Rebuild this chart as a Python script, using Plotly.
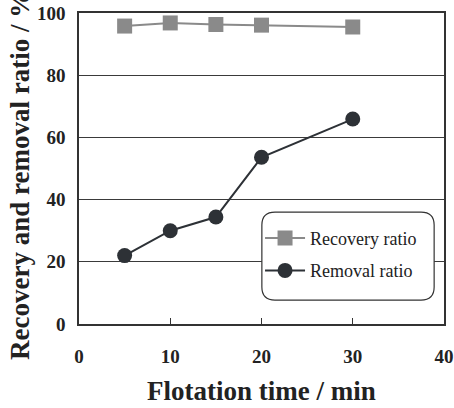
import plotly.graph_objects as go

time_min = [5, 10, 15, 20, 30]
recovery = [95.8, 96.8, 96.3, 96.1, 95.5]
removal = [22.0, 30.0, 34.4, 53.6, 65.9]
x_ticks = [0, 10, 20, 30, 40]
y_ticks = [0, 20, 40, 60, 80, 100]

SERIF = "Liberation Serif, Times New Roman, serif"

fig = go.Figure()
fig.add_trace(go.Scatter(
    x=time_min, y=recovery, mode="lines+markers", name="Recovery ratio",
    legendgroup="rec",
    line=dict(color="#8a8a8a", width=2),
    marker=dict(symbol="square", size=15, color="#8a8a8a"),
))
fig.add_trace(go.Scatter(
    x=time_min, y=removal, mode="lines+markers", name="Removal ratio",
    legendgroup="rem",
    line=dict(color="#2d3136", width=2),
    marker=dict(symbol="circle", size=15, color="#2d3136"),
))

# rounded legend box
x0, x1, y0, y1 = 0.501, 0.973, 0.077, 0.360
rx, ry = 0.036, 0.042
path = (f"M {x0+rx},{y0} L {x1-rx},{y0} Q {x1},{y0} {x1},{y0+ry} "
        f"L {x1},{y1-ry} Q {x1},{y1} {x1-rx},{y1} L {x0+rx},{y1} "
        f"Q {x0},{y1} {x0},{y1-ry} L {x0},{y0+ry} Q {x0},{y0} {x0+rx},{y0} Z")
fig.add_shape(type="path", path=path, xref="paper", yref="paper",
              line=dict(color="#333333", width=1.2), fillcolor="white", layer="above")

fig.update_layout(
    width=454, height=408,
    margin=dict(l=79, r=10, t=13, b=84, autoexpand=False),
    paper_bgcolor="white", plot_bgcolor="white",
    font=dict(family=SERIF, color="#222222"),
    showlegend=True,
    legend=dict(x=0.496, y=0.335, xanchor="left", yanchor="top",
                bgcolor="rgba(0,0,0,0)", borderwidth=0,
                font=dict(family=SERIF, size=18, color="#222222"),
                itemwidth=40, tracegroupgap=6),
    xaxis=dict(range=[0, 40], tickvals=x_ticks, showgrid=False, zeroline=False,
               automargin=False,
               showline=True, linecolor="#333333", linewidth=1.5, mirror=True,
               ticks="inside", ticklen=6, tickcolor="#333333",
               tickfont=dict(family=SERIF, size=19, color="#222222", weight="bold"),
               ticklabelstandoff=14),
    yaxis=dict(range=[0, 100], tickvals=y_ticks, showgrid=True, gridcolor="#3a3a3a",
               gridwidth=1, zeroline=False, automargin=False,
               showline=True, linecolor="#333333", linewidth=1.5, mirror=True,
               ticks="", tickfont=dict(family=SERIF, size=19, color="#222222", weight="bold"),
               ticklabelstandoff=8),
)

fig.add_annotation(text="Flotation time / min", xref="paper", yref="paper",
                   x=0.5, y=-0.215, xanchor="center", yanchor="middle", showarrow=False,
                   font=dict(family=SERIF, size=27, color="#222222", weight="bold"))
fig.add_annotation(text="Recovery and removal ratio / %", xref="paper", yref="paper",
                   x=-0.162, y=0.479, xanchor="center", yanchor="middle", showarrow=False,
                   textangle=-90,
                   font=dict(family=SERIF, size=27, color="#222222", weight="bold"))

fig.write_html("out.html")
